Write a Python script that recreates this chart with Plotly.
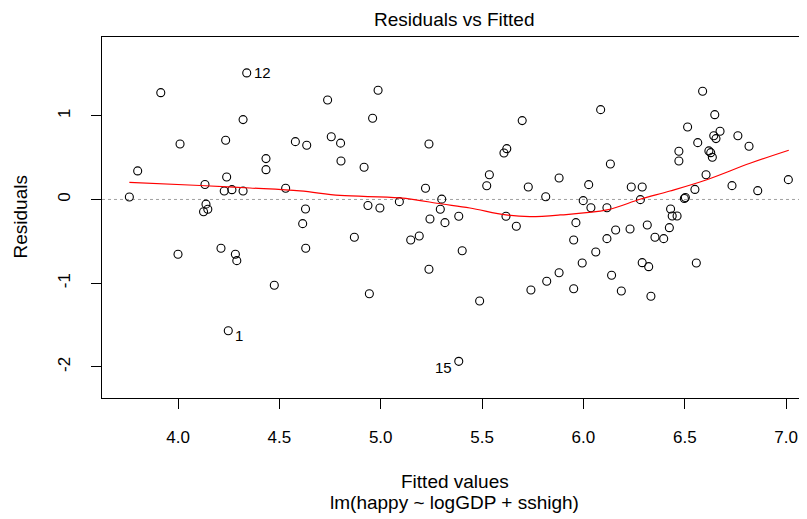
import plotly.graph_objects as go

fitted = [3.760, 3.801, 3.915, 4.010, 4.133, 4.138, 4.126, 4.147, 4.228, 4.266,
          4.321, 4.240, 4.235, 4.321, 4.339, 4.434, 4.434, 4.531, 4.579, 4.635,
          4.629, 4.738, 4.756, 4.802, 4.804, 4.000, 4.212, 4.283, 4.290, 4.248,
          4.475, 4.615, 4.630, 4.918, 4.960, 4.987, 5.238, 5.221, 5.092, 4.937,
          4.996, 5.301, 5.294, 5.698, 5.622, 5.608, 5.536, 5.523, 5.728, 5.814,
          5.880, 5.618, 5.243, 5.317, 5.385, 5.669, 4.870, 5.148, 5.190, 5.402,
          5.238, 4.944, 5.488, 5.385, 5.741, 5.819, 5.880, 6.085, 6.133, 6.026,
          5.999, 6.037, 6.116, 6.236, 6.290, 6.281, 6.430, 6.438, 6.462, 6.471,
          6.471, 6.514, 6.503, 6.498, 6.550, 6.564, 6.588, 6.605, 6.619, 6.628,
          6.636, 6.648, 6.643, 6.654, 6.674, 6.762, 6.817, 6.733, 6.860, 7.011,
          5.963, 5.952, 6.159, 6.116, 6.230, 6.315, 6.424, 6.353, 6.396, 6.061,
          5.994, 6.139, 6.290, 6.322, 6.557, 5.952, 6.187, 6.333]
residuals = [0.030, 0.341, 1.276, 0.663, 0.179, -0.056, -0.146, -0.117, 0.102, 0.117,
             0.102, 0.269, 0.707, 0.954, 1.512, 0.488, 0.356, 0.134, 0.691, 0.648,
             -0.114, 1.189, 0.750, 0.673, 0.460, -0.655, -0.583, -0.655, -0.731, -1.568,
             -1.025, -0.289, -0.583, 0.385, 0.970, 1.305, 0.663, 0.134, -0.026, -0.072,
             -0.102, 0.004, -0.117, 0.942, 0.607, 0.556, 0.296, 0.164, 0.149, 0.033,
             0.257, -0.200, -0.233, -0.277, -0.200, -0.320, -0.452, -0.484, -0.436, -0.612,
             -0.834, -1.126, -1.213, -1.934, -1.081, -0.977, -0.875, 1.073, 0.424, 0.177,
             -0.014, -0.099, -0.099, 0.149, 0.149, -0.002, -0.114, -0.197, -0.197, 0.576,
             0.460, 0.866, 0.024, 0.012, 0.120, 0.679, 1.293, 0.296, 0.580, 0.559,
             0.504, 1.013, 0.762, 0.727, 0.815, 0.762, 0.636, 0.165, 0.105, 0.237,
             -0.277, -0.484, -0.364, -0.468, -0.353, -0.305, -0.337, -0.452, -0.468, -0.627,
             -0.759, -0.906, -0.755, -0.803, -0.759, -1.066, -1.093, -1.157]

smooth_x = [3.760, 4.109, 4.355, 4.602, 4.799, 5.095, 5.302, 5.440, 5.618, 5.736,
            5.885, 6.116, 6.279, 6.427, 6.605, 6.822, 7.013]
smooth_y = [0.205, 0.167, 0.137, 0.102, 0.048, 0.018, -0.054, -0.102, -0.185, -0.205,
            -0.185, -0.125, 0.002, 0.101, 0.233, 0.432, 0.588]

label_names = ["12", "1", "15"]
label_idx = [14, 29, 63]

x_ticks = [4.0, 4.5, 5.0, 5.5, 6.0, 6.5, 7.0]
x_ticklabels = ["4.0", "4.5", "5.0", "5.5", "6.0", "6.5", "7.0"]
y_ticks = [-2, -1, 0, 1]
y_ticklabels = ["-2", "-1", "0", "1"]

FONT = "Liberation Sans Narrow, Arial Narrow, Liberation Sans, Arial, sans-serif"

fig = go.Figure()
fig.add_shape(type="line", xref="paper", x0=0, x1=1, yref="y", y0=0, y1=0,
              line=dict(color="#a0a0a0", width=1, dash="dot"), layer="below")
fig.add_trace(go.Scatter(x=fitted, y=residuals, mode="markers",
                         marker=dict(symbol="circle-open", size=8, color="black",
                                     line=dict(width=1.1, color="black")),
                         showlegend=False, hoverinfo="x+y"))
fig.add_trace(go.Scatter(x=smooth_x, y=smooth_y, mode="lines",
                         line=dict(color="red", width=1.2, shape="spline"),
                         showlegend=False, hoverinfo="skip"))

anns = []
placements = {"12": dict(xanchor="left", xshift=5, yshift=0),
              "1": dict(xanchor="left", xshift=5, yshift=-5),
              "15": dict(xanchor="right", xshift=-5, yshift=-6)}
for name, i in zip(label_names, label_idx):
    p = placements[name]
    anns.append(dict(x=fitted[i], y=residuals[i], xref="x", yref="y", text=name,
                     showarrow=False, xanchor=p["xanchor"], yanchor="middle",
                     xshift=p["xshift"], yshift=p["yshift"],
                     font=dict(family=FONT, size=15, color="black")))
anns.append(dict(x=0.5, y=0, xref="paper", yref="paper", text="Fitted values",
                 showarrow=False, xanchor="center", yanchor="middle", yshift=-83,
                 font=dict(family=FONT, size=19, color="black")))
anns.append(dict(x=0.5, y=0, xref="paper", yref="paper", text="lm(happy ~ logGDP + sshigh)",
                 showarrow=False, xanchor="center", yanchor="middle", yshift=-104,
                 font=dict(family=FONT, size=19, color="black")))
anns.append(dict(x=0, y=0.5, xref="paper", yref="paper", text="Residuals",
                 showarrow=False, xanchor="center", yanchor="middle", xshift=-82,
                 textangle=-90, font=dict(family=FONT, size=19, color="black")))
anns.append(dict(x=0.5, y=1, xref="paper", yref="paper", text="Residuals vs Fitted",
                 showarrow=False, xanchor="center", yanchor="middle", yshift=18,
                 font=dict(family=FONT, size=19, color="black")))

fig.update_layout(
    width=799, height=511,
    margin=dict(l=94, r=0, t=29, b=121),
    paper_bgcolor="white", plot_bgcolor="white",
    annotations=anns,
    font=dict(family=FONT, size=16, color="black"),
    xaxis=dict(range=[3.625, 7.103], tickvals=x_ticks, ticktext=x_ticklabels,
               showgrid=False, zeroline=False, showline=True, mirror=True,
               linecolor="black", linewidth=1, ticks="outside", ticklen=10,
               tickcolor="black", ticklabelstandoff=14,
               tickfont=dict(family=FONT, size=17, color="black")),
    yaxis=dict(range=[-2.372, 1.941], tickvals=y_ticks, ticktext=y_ticklabels,
               showgrid=False, zeroline=False, showline=True, mirror=False,
               linecolor="black", linewidth=1, ticks="outside", ticklen=10,
               tickcolor="black", tickangle=-90, ticklabelstandoff=14,
               tickfont=dict(family=FONT, size=17, color="black")),
)

fig.write_html("out.html")
